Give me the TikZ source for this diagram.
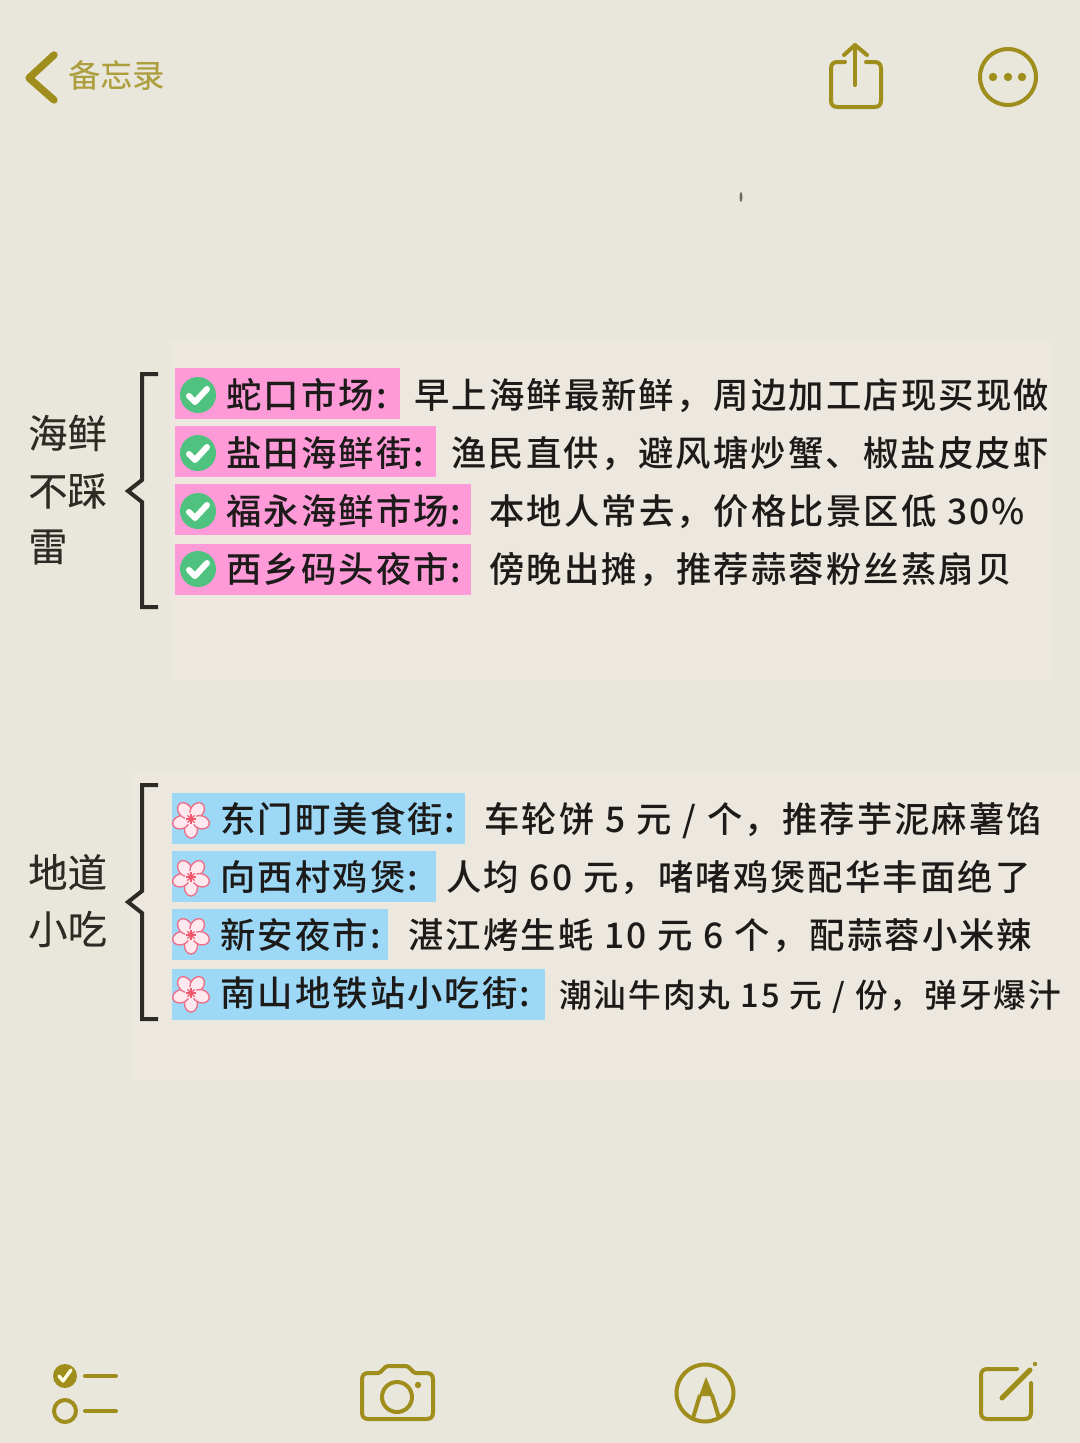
\documentclass[tikz,border=0pt]{standalone}
\usepackage{fontspec}
\usepackage{xcolor}
\newfontfamily\cjkfont[LetterSpace=6,WordSpace=1.08,UprightFont=* Medium]{Noto Sans CJK SC}
\newfontfamily\cjkplain[FakeBold=0.15]{Noto Sans CJK SC}
\definecolor{paper}{HTML}{E9E6DC}
\definecolor{paperlight}{HTML}{ECE8DF}
\definecolor{olive}{HTML}{9F8E1C}
\definecolor{inkdark}{HTML}{1C1B19}
\definecolor{bracketink}{HTML}{2E2B26}
\definecolor{pinkbar}{HTML}{FF9AD8}
\definecolor{bluebar}{HTML}{9DD8F7}
\definecolor{checkgreen}{HTML}{4FC27F}
\definecolor{petalfill}{HTML}{FFE9EF}
\definecolor{petalline}{HTML}{EE6E88}
\tikzset{
  rowtext/.style={anchor=west,inner sep=0pt,text height=27pt,text depth=5pt,text=inkdark,font=\cjkfont\fontsize{26.5}{30}\selectfont},
  sidetext/.style={anchor=west,inner sep=0pt,text=bracketink,font=\cjkplain\fontsize{29.5}{34}\selectfont},
  iconline/.style={draw=olive,line width=3pt,line cap=round,line join=round},
  bracketline/.style={draw=bracketink,line width=3pt,line join=miter},
}
\begin{document}
\begin{tikzpicture}[x=0.75pt,y=0.75pt,yscale=-1]
        \useasboundingbox (0,0) rectangle (1080,1443);
        %Shape: Rectangle (paper)
        \fill [paper] (0,0) rectangle (1080,1443);
        \fill [paperlight] (170,340) rectangle (1050,680);
        \fill [paperlight] (130,770) rectangle (1080,1080);
        \fill [bracketink!70] (741,197) ellipse (1.5 and 5);

        %Back arrow
        \draw [iconline,line width=5.5pt] (54,55) -- (29,78) -- (54,100);
        % Text Node
        \node (backlabel) [anchor=west,inner sep=0pt,text=olive!85,font=\cjkplain\fontsize{24}{28}\selectfont] at (68,75) {备忘录};

        %Share icon
        \draw [iconline] (845,62) -- (838,62) .. controls (833,62) and (831,64) .. (831,69) -- (831,100) .. controls (831,105) and (833,107) .. (838,107) -- (874,107) .. controls (879,107) and (881,105) .. (881,100) -- (881,69) .. controls (881,64) and (879,62) .. (874,62) -- (866,62);
        \draw [iconline] (855,85) -- (855,45);
        \draw [iconline] (844,55) -- (855,45) -- (867,55);
        %More icon
        \draw [iconline] (1008,77) circle [radius=28];
        \foreach \dotx in {993,1008,1022}
          \fill [olive] (\dotx,77) circle [radius=4.2];

        %Bracket, upper
        \draw [bracketline] (158,374) -- (142,374) -- (142,480) -- (128,491) -- (142,502) -- (142,607) -- (158,607);
        %Bracket, lower
        \draw [bracketline] (158,785) -- (142,785) -- (142,891) -- (128,902) -- (142,913) -- (142,1019) -- (158,1019);

        % Text Node
        \node (seaA) [sidetext] at (28,433) {海鲜};
        \node (seaB) [sidetext] at (28,491) {不踩};
        \node (seaC) [sidetext] at (28,547) {雷};
        \node (foodA) [sidetext] at (28,872) {地道};
        \node (foodB) [sidetext] at (28,929) {小吃};

        %Upper rows
        \foreach \rowy/\barleft/\barright/\rowname/\detailx/\detail [count=\n] in {
            395/368/400/{蛇口市场:}/414/{早上海鲜最新鲜，周边加工店现买现做},
            453/426/436/{盐田海鲜街:}/451/{渔民直供，避风塘炒蟹、椒盐皮皮虾},
            511/484/471/{福永海鲜市场:}/489/{本地人常去，价格比景区低 30\%},
            569/544/471/{西乡码头夜市:}/489/{傍晚出摊，推荐蒜蓉粉丝蒸扇贝}} {
          \fill [pinkbar] (175,\barleft) rectangle (\barright,\barleft+51);
          \fill [checkgreen] (198,\rowy) circle [radius=18];
          \draw [white,line width=4.5pt,line cap=round,line join=round] (189,\rowy+1) -- (195,\rowy+7) -- (207,\rowy-6);
          \node (shop\n) [rowtext] at (226,\rowy-1) {\rowname};
          \node (note\n) [rowtext] at (\detailx,\rowy-1) {\detail};
        }

        %Lower rows
        \foreach \rowy/\barleft/\barright/\rowname/\detailx/\detail [count=\n] in {
            819/793/465/{东门町美食街:}/484/{车轮饼 5 元 / 个，推荐芋泥麻薯馅},
            877/851/436/{向西村鸡煲:}/446/{人均 60 元，啫啫鸡煲配华丰面绝了},
            935/909/388/{新安夜市:}/408/{湛江烤生蚝 10 元 6 个，配蒜蓉小米辣},
            993/969/545/{南山地铁站小吃街:}/559/{}} {
          \fill [bluebar] (172,\barleft) rectangle (\barright,\barleft+51);
          \foreach \ang in {90,162,234,306,378}
            \draw [petalline,fill=petalfill,line width=1pt,rotate around={\ang:(191,\rowy)}] (191+10.5,\rowy) ellipse (8.5 and 6.5);
          \fill [petalfill] (191,\rowy) circle [radius=6];
          \foreach \ang in {0,45,...,315}
            \draw [petalline!80!red,line width=1pt] (191,\rowy) -- ++(\ang:5);
          \node (stall\n) [rowtext] at (220,\rowy-1) {\rowname};
          \node (tip\n) [rowtext] at (\detailx,\rowy-1) {\detail};
        }
        % Text Node
        \node (tiplast) [rowtext,font=\cjkfont\fontsize{24.5}{28}\selectfont] at (559,993) {潮汕牛肉丸 15 元 / 份，弹牙爆汁};

        %Checklist icon
        \fill [olive] (65,1376) circle [radius=12];
        \draw [white!90!yellow,line width=2.5pt,line cap=round,line join=round] (59,1376) -- (63,1381) -- (71,1370);
        \draw [iconline] (85,1376) -- (116,1376);
        \draw [iconline] (65,1411) circle [radius=11];
        \draw [iconline] (85,1411) -- (116,1411);
        %Camera icon
        \draw [iconline] (369,1373) -- (378,1373) .. controls (382,1373) and (384,1366) .. (388,1366) -- (406,1366) .. controls (410,1366) and (412,1373) .. (416,1373) -- (426,1373) .. controls (431,1373) and (433,1375) .. (433,1380) -- (433,1412) .. controls (433,1417) and (431,1419) .. (426,1419) -- (369,1419) .. controls (364,1419) and (362,1417) .. (362,1412) -- (362,1380) .. controls (362,1375) and (364,1373) .. (369,1373) -- cycle;
        \draw [iconline] (397,1397) circle [radius=15];
        \fill [olive] (418,1385) circle [radius=3.2];
        %Pen icon
        \draw [iconline] (705,1393) circle [radius=28.5];
        \fill [olive] (706,1377) -- (699,1396) -- (714,1396) -- cycle;
        \draw [iconline,line cap=butt] (700,1395) -- (693,1418);
        \draw [iconline,line cap=butt] (712,1395) -- (719,1418);
        %Compose icon
        \draw [iconline] (1017,1369) -- (988,1369) .. controls (983,1369) and (981,1371) .. (981,1376) -- (981,1412) .. controls (981,1417) and (983,1419) .. (988,1419) -- (1024,1419) .. controls (1029,1419) and (1031,1417) .. (1031,1412) -- (1031,1383);
        \draw [iconline,line width=3.8pt] (1002,1398) -- (1030,1370);
        \fill [olive] (1035,1364) circle [radius=2.2];
\end{tikzpicture}
\end{document}
